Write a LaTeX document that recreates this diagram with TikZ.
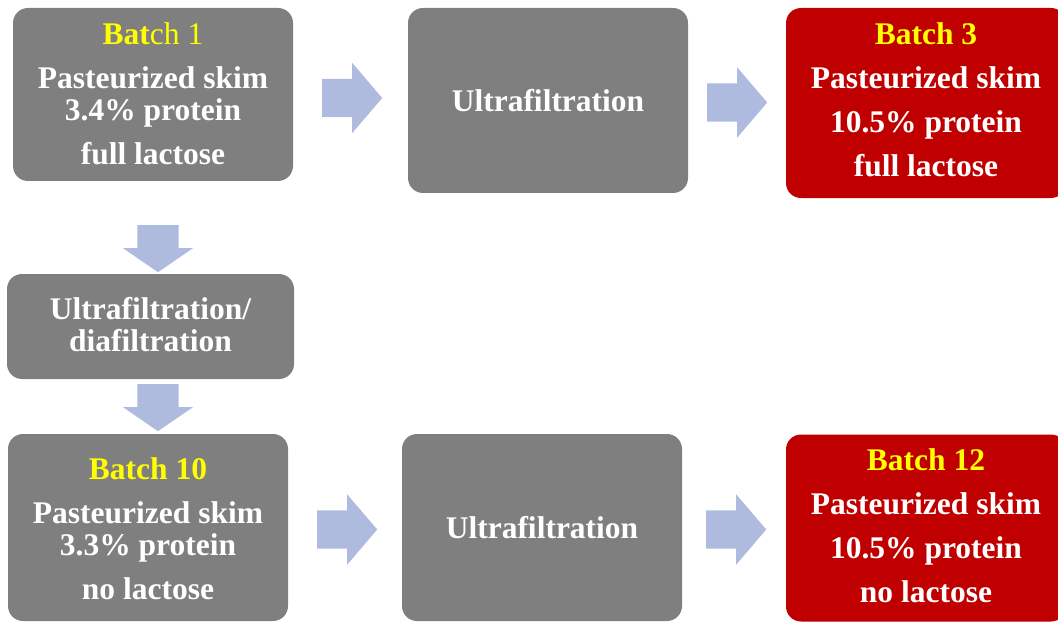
\documentclass[tikz,border=0pt]{standalone}
\usepackage{fontspec}
\setmainfont{Liberation Serif}
\usetikzlibrary{shapes.arrows}
\usepackage{xcolor}
\definecolor{boxgray}{RGB}{127,127,127}
\definecolor{boxred}{RGB}{192,0,0}
\definecolor{arrowblue}{RGB}{175,187,222}
\definecolor{batchyellow}{RGB}{255,255,0}
\makeatletter
\def\parsept#1#2#3{%
    \def\nospace##1{\zap@space##1 \@empty}%
    \def\rawparsept(##1,##2){%
        \edef#1{\nospace{##1}}%
        \edef#2{\nospace{##2}}%
    }%
    \expandafter\rawparsept#3%
}
\makeatother

\begin{document}
\begin{tikzpicture}[x=1pt,y=-1pt,
    box/.style={fill=boxgray,rounded corners=15pt,inner sep=0pt,text=white,
        font=\fontsize{31.5}{44}\selectfont\bfseries},
    redbox/.style={box,fill=boxred},
    boxtext/.style={text=white,font=\fontsize{31.5}{44}\selectfont\bfseries,
        align=center,inner sep=0pt,anchor=north},
    rarrow/.style={single arrow,fill=arrowblue,inner xsep=0pt,inner ysep=19pt,anchor=tail,
        minimum height=60pt,single arrow head extend=16pt,single arrow tip angle=99},
    darrow/.style={single arrow,fill=arrowblue,rotate=-90,inner xsep=0pt,inner ysep=20.5pt,anchor=tail,
        minimum height=47pt,single arrow head extend=14.5pt,single arrow tip angle=111}]
    \useasboundingbox (0,0) rectangle (1058,623);
    % boxes
    \node[box,minimum width=280pt,minimum height=173pt] at (153,94.5) (batch1) {};
    \node[box,minimum width=280pt,minimum height=185pt] at (548,100.5) (uf1) {Ultrafiltration};
    \node[redbox,minimum width=280pt,minimum height=190pt] at (926,103) (batch3) {};
    \node[box,minimum width=287pt,minimum height=105pt] at (150.5,326.5) (ufdf) {};
    \node[box,minimum width=280pt,minimum height=187pt] at (148,527.5) (batch10) {};
    \node[box,minimum width=280pt,minimum height=187pt] at (542,527.5) (uf2) {Ultrafiltration};
    \node[redbox,minimum width=280pt,minimum height=187pt] at (926,528) (batch12) {};
    % texts
    \node[boxtext] at (batch1.center |- 0,22.7) (batch1txt)
        {\textcolor{batchyellow}{Bat{\mdseries ch 1}}\\Pasteurized skim\\[-12pt]3.4\% protein\\full lactose};
    \node[boxtext] at (batch3.center |- 0,22.7) (batch3txt)
        {\textcolor{batchyellow}{Batch 3}\\Pasteurized skim\\10.5\% protein\\full lactose};
    \node[boxtext] at (ufdf.center |- 0,297) (ufdftxt)
        {Ultrafiltration/\\[-12pt]diafiltration};
    \node[boxtext] at (batch10.center |- 0,457.7) (batch10txt)
        {\textcolor{batchyellow}{Batch 10}\\Pasteurized skim\\[-12pt]3.3\% protein\\no lactose};
    \node[boxtext] at (batch12.center |- 0,448.7) (batch12txt)
        {\textcolor{batchyellow}{Batch 12}\\Pasteurized skim\\10.5\% protein\\no lactose};
    % block arrows
    \def\rarrows{(322, 98), (707, 102.5), (317, 529.5), (706, 529.5)}
    \def\darrows{(158, 225), (158, 384)}
    \foreach \p [count=\i] in \rarrows{
        \parsept{\x}{\y}{\p}
        \node[rarrow] at (\x, \y) (ra\i) {};
    }
    \foreach \p [count=\i] in \darrows{
        \parsept{\x}{\y}{\p}
        \node[darrow] at (\x, \y) (da\i) {};
    }
\end{tikzpicture}
\end{document}
